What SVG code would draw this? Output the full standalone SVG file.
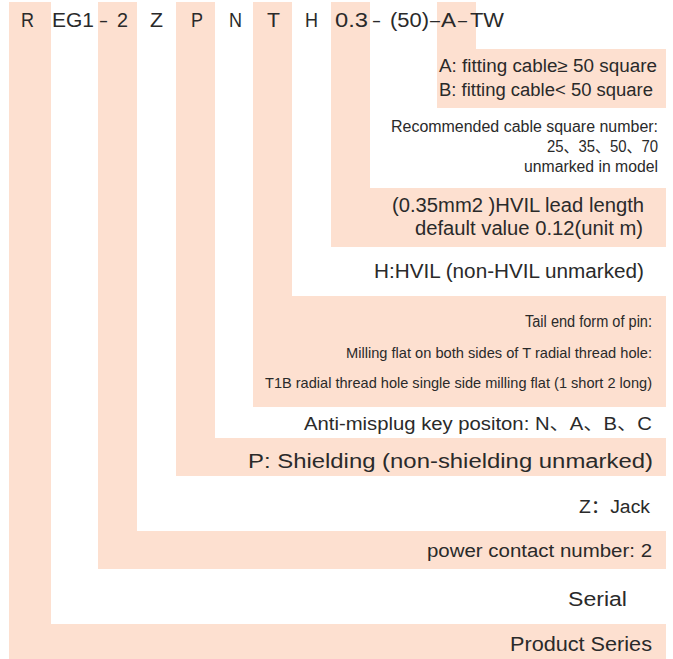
<svg xmlns="http://www.w3.org/2000/svg" width="673" height="659" viewBox="0 0 673 659">
<style>
.band{fill:#fde0d0;}
text{font-family:"Liberation Sans","Noto Sans CJK SC",Arial,sans-serif;fill:#2a2a2a;}
.h{font-size:20px;}
.l{font-size:19.5px;}
.m{font-size:18px;}
.s{font-size:16px;}
.xs{font-size:15px;}
</style>
<rect width="673" height="659" fill="#ffffff"/>
<g id="node-R">
<path class="band" d="M9,2H51V624H666V659H9Z"/>
<text class="h" x="21" y="27" textLength="13" lengthAdjust="spacingAndGlyphs">R</text>
<text class="l" x="510" y="651" textLength="142" lengthAdjust="spacingAndGlyphs">Product Series</text>
</g>
<g id="node-EG1">
<text class="h" x="52" y="27" textLength="42" lengthAdjust="spacingAndGlyphs">EG1</text>
<text class="l" x="568" y="606" textLength="59" lengthAdjust="spacingAndGlyphs">Serial</text>
</g>
<g id="node-2">
<path class="band" d="M98,2H137V531H666V569H98Z"/>
<text class="h" x="100" y="27" textLength="7" lengthAdjust="spacingAndGlyphs">–</text>
<text class="h" x="117" y="27" textLength="11" lengthAdjust="spacingAndGlyphs">2</text>
<text class="m" x="427" y="557" textLength="225" lengthAdjust="spacingAndGlyphs">power contact number: 2</text>
</g>
<g id="node-Z">
<text class="h" x="150" y="27" textLength="13" lengthAdjust="spacingAndGlyphs">Z</text>
<text class="m" x="579" y="513" textLength="71" lengthAdjust="spacingAndGlyphs">Z：Jack</text>
</g>
<g id="node-P">
<path class="band" d="M176,2H215V438H666V476H176Z"/>
<text class="h" x="191" y="27" textLength="12" lengthAdjust="spacingAndGlyphs">P</text>
<text class="h" x="248" y="468" textLength="405" lengthAdjust="spacingAndGlyphs">P: Shielding (non-shielding unmarked)</text>
</g>
<g id="node-N">
<text class="h" x="229" y="27" textLength="13" lengthAdjust="spacingAndGlyphs">N</text>
<text class="m" x="304" y="430" textLength="348" lengthAdjust="spacingAndGlyphs">Anti-misplug key positon: N、A、B、C</text>
</g>
<g id="node-T">
<path class="band" d="M253,2H292V296H666V407H253Z"/>
<text class="h" x="267" y="27" textLength="13" lengthAdjust="spacingAndGlyphs">T</text>
<text class="s" x="525" y="327" textLength="127" lengthAdjust="spacingAndGlyphs">Tail end form of pin:</text>
<text class="xs" x="346" y="358" textLength="306" lengthAdjust="spacingAndGlyphs">Milling flat on both sides of T radial thread hole:</text>
<text class="xs" x="265" y="388" textLength="387" lengthAdjust="spacingAndGlyphs">T1B radial thread hole single side milling flat (1 short 2 long)</text>
</g>
<g id="node-H">
<text class="h" x="305" y="27" textLength="13" lengthAdjust="spacingAndGlyphs">H</text>
<text class="l" x="374" y="278" textLength="270" lengthAdjust="spacingAndGlyphs">H:HVIL (non-HVIL unmarked)</text>
</g>
<g id="node-03">
<path class="band" d="M331,2H370V188H666V247H331Z"/>
<text class="h" x="335" y="27" textLength="33" lengthAdjust="spacingAndGlyphs">0.3</text>
<text class="l" x="392" y="212" textLength="252" lengthAdjust="spacingAndGlyphs">(0.35mm2 )HVIL lead length</text>
<text class="l" x="415" y="235" textLength="228" lengthAdjust="spacingAndGlyphs">default value 0.12(unit m)</text>
</g>
<g id="node-50">
<text class="h" x="373" y="27" textLength="7" lengthAdjust="spacingAndGlyphs">–</text>
<text class="h" x="390" y="27" textLength="39" lengthAdjust="spacingAndGlyphs">(50)</text>
<text class="s" x="391" y="132" textLength="267" lengthAdjust="spacingAndGlyphs">Recommended cable square number:</text>
<text class="s" x="547" y="152" textLength="111" lengthAdjust="spacingAndGlyphs">25、35、50、70</text>
<text class="s" x="524" y="172" textLength="134" lengthAdjust="spacingAndGlyphs">unmarked in model</text>
</g>
<g id="node-A">
<path class="band" d="M437,2H476V49H666V108H437Z"/>
<text class="h" x="430" y="27" textLength="10" lengthAdjust="spacingAndGlyphs">–</text>
<text class="h" x="441" y="27" textLength="15" lengthAdjust="spacingAndGlyphs">A</text>
<text class="m" x="439" y="72" textLength="218" lengthAdjust="spacingAndGlyphs">A: fitting cable≥ 50 square</text>
<text class="m" x="439" y="96" textLength="214" lengthAdjust="spacingAndGlyphs">B: fitting cable&lt; 50 square</text>
</g>
<g id="node-TW">
<text class="h" x="458" y="27" textLength="9" lengthAdjust="spacingAndGlyphs">–</text>
<text class="h" x="470" y="27" textLength="34" lengthAdjust="spacingAndGlyphs">TW</text>
</g>
<g id="connectors"></g>
</svg>
